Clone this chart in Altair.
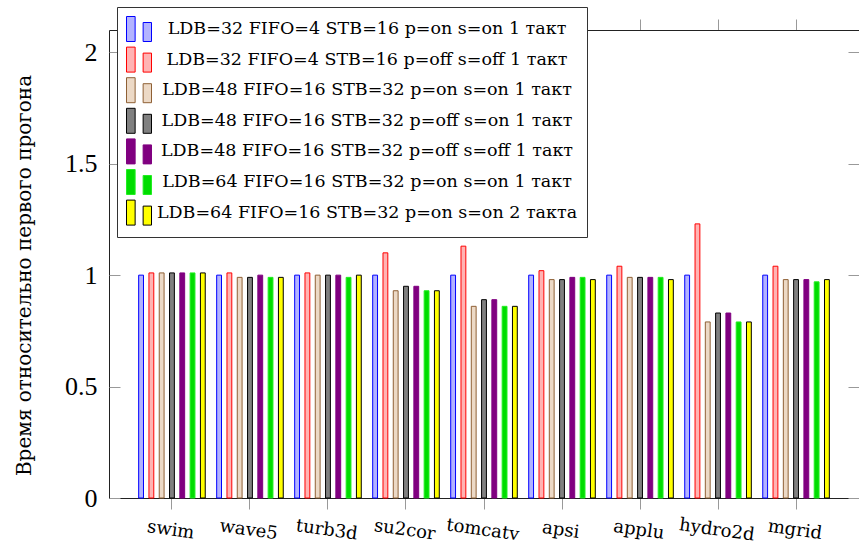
import altair as alt
import pandas as pd

benchmarks = ["swim", "wave5", "turb3d", "su2cor", "tomcatv", "apsi", "applu", "hydro2d", "mgrid"]
series = [
    "LDB=32 FIFO=4 STB=16 p=on s=on 1 такт",
    "LDB=32 FIFO=4 STB=16 p=off s=off 1 такт",
    "LDB=48 FIFO=16 STB=32 p=on s=on 1 такт",
    "LDB=48 FIFO=16 STB=32 p=off s=on 1 такт",
    "LDB=48 FIFO=16 STB=32 p=off s=off 1 такт",
    "LDB=64 FIFO=16 STB=32 p=on s=on 1 такт",
    "LDB=64 FIFO=16 STB=32 p=on s=on 2 такта",
]
s1 = [1.00, 1.00, 1.00, 1.00, 1.00, 1.00, 1.00, 1.00, 1.00]
s2 = [1.01, 1.01, 1.01, 1.10, 1.13, 1.02, 1.04, 1.23, 1.04]
s3 = [1.01, 0.99, 1.00, 0.93, 0.86, 0.98, 0.99, 0.79, 0.98]
s4 = [1.01, 0.99, 1.00, 0.95, 0.89, 0.98, 0.99, 0.83, 0.98]
s5 = [1.01, 1.00, 1.00, 0.95, 0.89, 0.99, 0.99, 0.83, 0.98]
s6 = [1.01, 0.99, 0.99, 0.93, 0.86, 0.99, 0.99, 0.79, 0.97]
s7 = [1.01, 0.99, 1.00, 0.93, 0.86, 0.98, 0.98, 0.79, 0.98]
y_ticks = [0, 0.5, 1, 1.5, 2]

fills = ["#b3b3ff", "#ffb3b3", "#ecd9c6", "#808080", "#800080", "#00dd00", "#ffff00"]
strokes = ["#0000ff", "#ff0000", "#8f6035", "#000000", "#800080", "#22ee22", "#000000"]

rows = []
for name, vals in zip(series, [s1, s2, s3, s4, s5, s6, s7]):
    for b, v in zip(benchmarks, vals):
        rows.append({"bench": b, "series": name, "value": v})
df = pd.DataFrame(rows)

W, H = 750, 468
x_scale = alt.Scale(domain=benchmarks, paddingInner=0, paddingOuter=0.307)
off_scale = alt.Scale(domain=series, paddingInner=0.53, paddingOuter=0.555)
y_scale = alt.Scale(domain=[0, 2.1], nice=False, zero=True)

legend = alt.Legend(
    title=None, orient="none", legendX=8, legendY=-23, direction="vertical",
    symbolType="M-1,-1H-0.31V1H-1Z M0.33,-0.52H1V1H0.33Z",
    symbolSize=625, symbolStrokeWidth=1, symbolOpacity=1,
    labelFont="DejaVu Serif", labelFontSize=17.5, labelColor="black",
    labelAlign="center", labelOffset=215, labelLimit=700,
    padding=9, rowPadding=0.6, strokeColor="#333333", fillColor="white",
)

base = alt.Chart(df)

bars = base.mark_bar(strokeWidth=1).encode(
    x=alt.X("bench:N", sort=benchmarks, scale=x_scale,
            axis=alt.Axis(orient="bottom", title=None, tickSize=11, tickColor="#999999",
                          domainColor="#222222", labelAngle=8, labelAlign="center",
                          labelBaseline="top", labelPadding=12, labelFont="DejaVu Serif",
                          labelFontSize=18, labelColor="black")),
    xOffset=alt.XOffset("series:N", sort=series, scale=off_scale),
    y=alt.Y("value:Q", scale=y_scale,
            axis=alt.Axis(orient="left", values=y_ticks, format="~g", ticks=False, tickSize=0,
                          labelPadding=12, labelFont="Liberation Serif", labelFontSize=26,
                          labelColor="black", domainColor="#222222", grid=False,
                          title="Время относительно первого прогона",
                          titleFont="DejaVu Serif", titleFontSize=20, titleFontWeight="normal",
                          titleColor="black", titleAngle=-90, titleAlign="center",
                          titleBaseline="alphabetic", titleX=-79, titleY=245)),
    fill=alt.Fill("series:N", sort=series, scale=alt.Scale(domain=series, range=fills), legend=legend),
    stroke=alt.Stroke("series:N", sort=series, scale=alt.Scale(domain=series, range=strokes), legend=legend),
)

top_right = base.mark_bar(opacity=0).encode(
    x=alt.X("bench:N", sort=benchmarks, scale=x_scale,
            axis=alt.Axis(orient="top", title=None, labels=False, tickSize=11,
                          tickColor="#999999", domainColor="#222222")),
    xOffset=alt.XOffset("series:N", sort=series, scale=off_scale),
    y=alt.Y("value:Q", scale=y_scale,
            axis=alt.Axis(orient="right", offset=-W, values=y_ticks, labels=False, domain=False,
                          tickSize=11, tickColor="#999999", title=None, grid=False)),
)

right_ticks = base.mark_bar(opacity=0).encode(
    x=alt.X("bench:N", sort=benchmarks, scale=x_scale, axis=None),
    xOffset=alt.XOffset("series:N", sort=series, scale=off_scale),
    y=alt.Y("value:Q", scale=y_scale,
            axis=alt.Axis(orient="left", offset=-W, values=y_ticks, labels=False, domain=False,
                          tickSize=11, tickColor="#999999", title=None, grid=False)),
)

chart = alt.layer(bars, top_right, right_ticks).resolve_axis(
    x="independent", y="independent"
).properties(
    width=W, height=H,
    autosize=alt.AutoSizeParams(type="none"),
    padding={"left": 109, "top": 30, "right": 0, "bottom": 52},
    background="white",
).configure_view(stroke=None)

chart.save("out.html", embed_options={"renderer": "svg", "actions": False})
